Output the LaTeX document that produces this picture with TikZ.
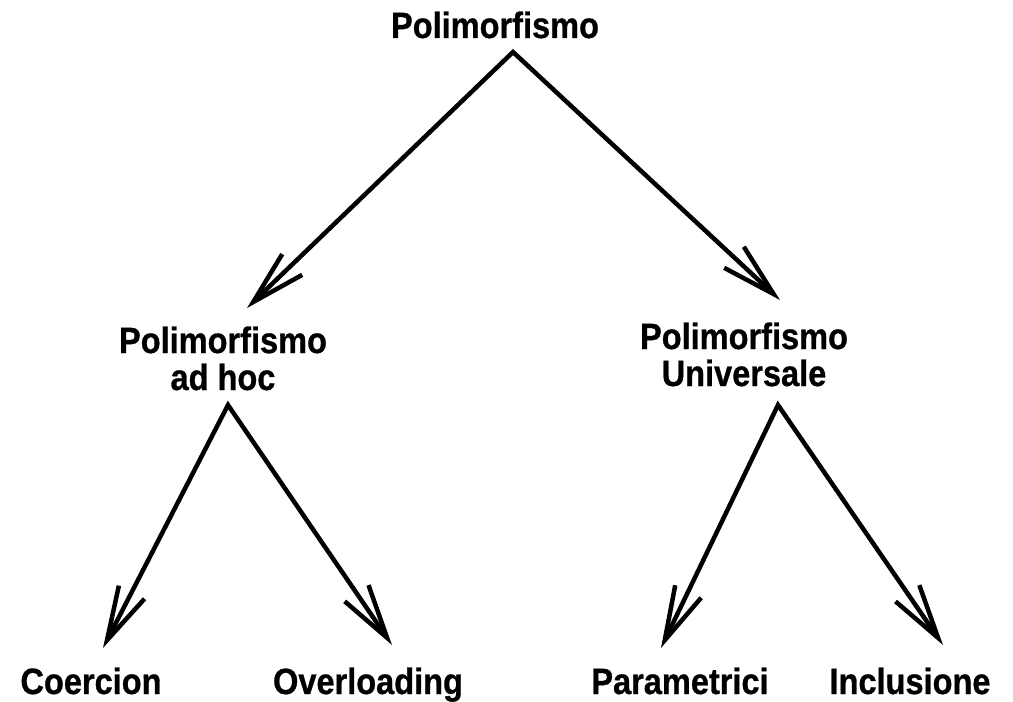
\documentclass[tikz,border=0pt]{standalone}
\usepackage{fontspec}
\setmainfont{Liberation Sans}[FakeStretch=0.89, BoldFeatures={FakeBold=0.8}]
\usetikzlibrary{arrows.meta}

\tikzset{
  label/.style={font=\bfseries\fontsize{26}{26.3}\selectfont, inner sep=0pt, anchor=base},
  branch/.style={line width=3.2pt, {Straight Barb[length=1.35cm, width=0.72cm]}-{Straight Barb[length=1.35cm, width=0.72cm]}}
}

\begin{document}
\begin{tikzpicture}[x=0.025cm, y=-0.025cm]
            \useasboundingbox (0,0) rectangle (1013,702);

            % Draw the labels
            \node[label] (poly) at (495, 38) {Polimorfismo};
            \node[label, align=center] (adhoc) at (223, 390) {Polimorfismo\\ad hoc};
            \node[label, align=center] (univ) at (744, 386) {Polimorfismo\\Universale};

            \node[label] (coer) at (91, 694) {Coercion};
            \node[label] (over) at (368, 694) {Overloading};
            \node[label] (param) at (680, 694) {Parametrici};
            \node[label] (incl) at (910, 694) {Inclusione};

            % Ends of the branches
            \coordinate (poly-out) at (513, 52);
            \coordinate (adhoc-in) at (247, 308);
            \coordinate (univ-in) at (780, 300);

            \coordinate (adhoc-out) at (228, 405);
            \coordinate (coer-in) at (103, 648);
            \coordinate (over-in) at (392, 645);

            \coordinate (univ-out) at (778, 405);
            \coordinate (param-in) at (661, 648);
            \coordinate (incl-in) at (943, 645);

            % Draw the branches
            \draw[branch] (adhoc-in) -- (poly-out) -- (univ-in);
            \draw[branch] (coer-in) -- (adhoc-out) -- (over-in);
            \draw[branch] (param-in) -- (univ-out) -- (incl-in);

\end{tikzpicture}
\end{document}
